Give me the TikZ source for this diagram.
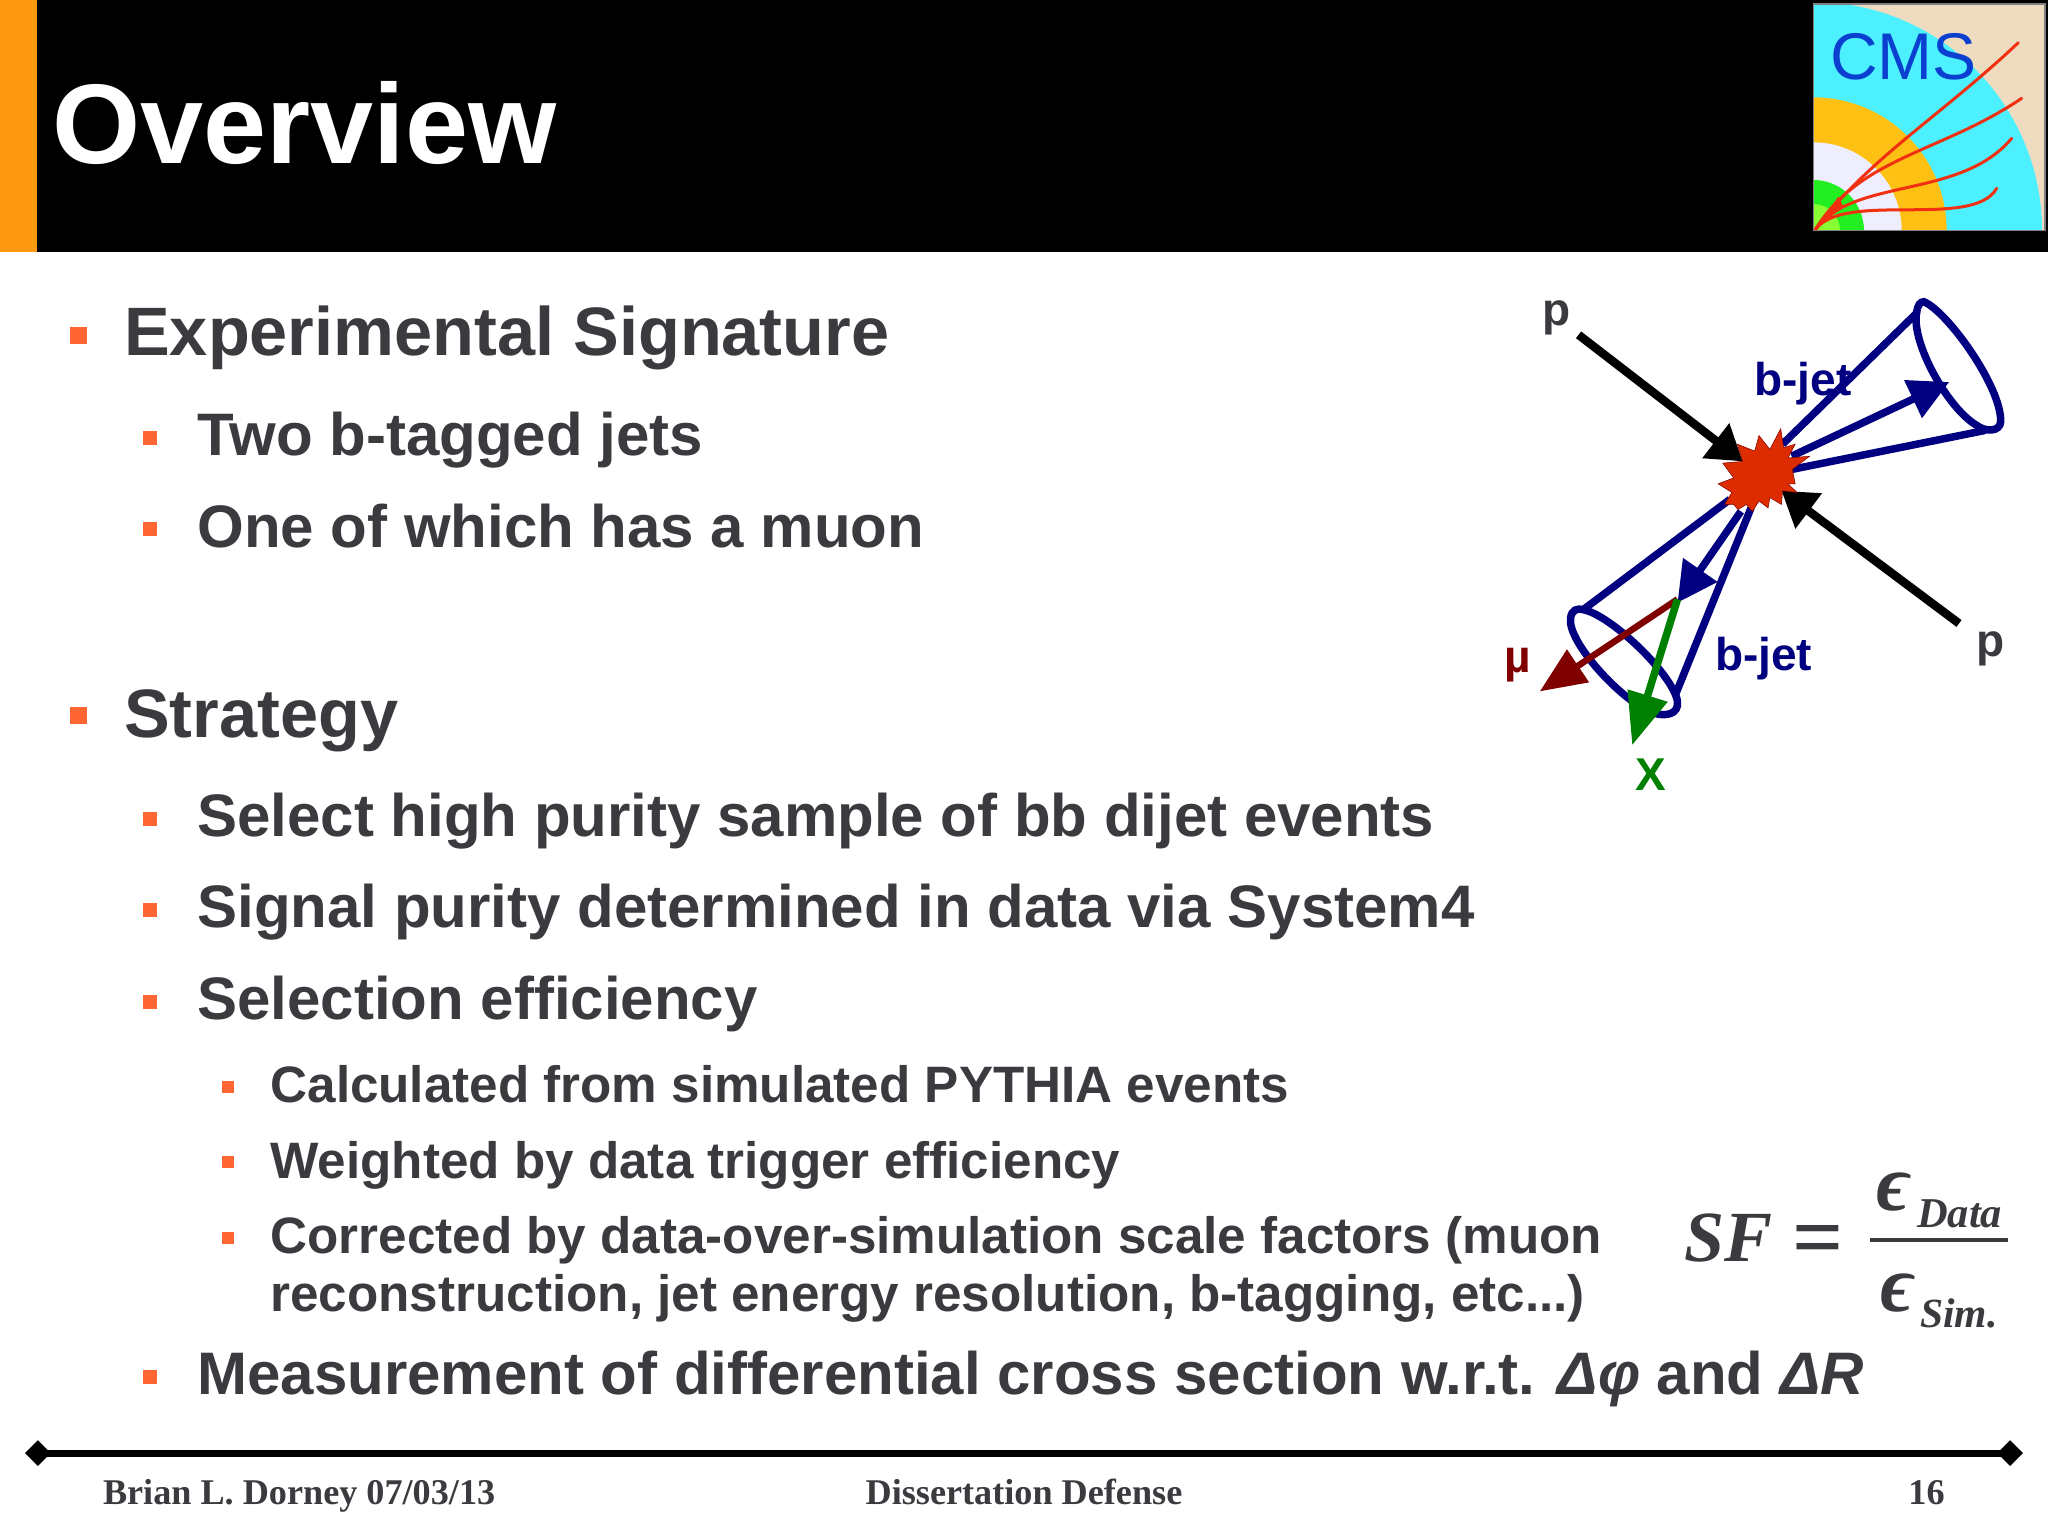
\documentclass[tikz,border=0pt]{standalone}
\usepackage{fontspec}
\setmainfont{Liberation Sans}
\newfontfamily\seriffam{Liberation Serif}
\usetikzlibrary{arrows.meta,shapes.geometric}
\definecolor{txt}{HTML}{3B3A3F}
\definecolor{bul}{HTML}{FF6633}
\definecolor{barorange}{HTML}{FF9912}
\definecolor{navyjet}{HTML}{000080}
\definecolor{starred}{HTML}{DD2C00}
\definecolor{muonred}{HTML}{800000}
\definecolor{xgreen}{HTML}{008000}
\definecolor{lbeige}{HTML}{EFDCC0}
\definecolor{lcyan}{HTML}{4DF0FF}
\definecolor{lorange}{HTML}{FFC014}
\definecolor{lwhite}{HTML}{EEEEFF}
\definecolor{lgreen}{HTML}{22EE22}
\definecolor{llime}{HTML}{88FF33}
\definecolor{ltrack}{HTML}{F03010}
\definecolor{lblue}{HTML}{0A3FD0}
\tikzset{
  lab/.style={anchor=base west,inner sep=0pt,text=txt,font=\bfseries\fontsize{#1}{#1}\selectfont},
  bsq/.style={fill=bul,draw=none,inner sep=0pt,minimum size=#1,shape=rectangle},
  lone/.style={lab=68.5},
  ltwo/.style={lab=60},
  lthree/.style={lab=51.2},
  foot/.style={anchor=base,inner sep=0pt,text=txt,font=\seriffam\bfseries\fontsize{36.2}{36.2}\selectfont},
  frm/.style={anchor=base west,inner sep=0pt,text=txt,font=\seriffam\bfseries\itshape\fontsize{#1}{#1}\selectfont},
  diag/.style={lab=46},
  proton/.style={line width=8.5pt,black,-{Triangle[length=34pt,width=42pt]}},
  jetline/.style={line width=7.5pt,navyjet},
  jetarrow/.style={line width=7.5pt,navyjet,-{Triangle[length=40pt,width=40pt]}},
  endcap/.style={diamond,fill=black,inner sep=0pt,minimum size=26pt},
  track/.style={ltrack,line width=3pt,line cap=round}
}
\begin{document}
\begin{tikzpicture}[x=1.30612pt,y=-1.30612pt]
\useasboundingbox (0,0) rectangle (1568,1175.2);
\fill[white] (0,0) rectangle (1568,1175.2);
% header
\fill[black] (0,0) rectangle (1568,193);
\fill[barorange] (0,0) rectangle (28,193);
\node[anchor=base west,inner sep=0pt,text=white,font=\bfseries\fontsize{113.3}{113.3}\selectfont] (title) at (40,125.5) {Overview};
% logo
\begin{scope}[shift={(1780pt,0pt)},x=0.33333pt,y=-0.33333pt]
\begin{scope}
\clip (100,12) rectangle (795,692);
\fill[lbeige] (100,12) rectangle (795,692);
\fill[lcyan] (100,692) circle (686);
\fill[lorange] (100,692) circle (400);
\fill[lwhite] (100,692) circle (265);
\fill[lgreen] (100,692) circle (152);
\fill[llime] (100,692) circle (80);
\draw[track] (105,690) .. controls (260,480) and (480,350) .. (715,128);
\draw[track] (105,690) .. controls (240,470) and (480,460) .. (725,295);
\draw[track] (105,690) .. controls (220,530) and (540,600) .. (695,415);
\draw[track] (105,690) .. controls (190,570) and (580,690) .. (650,565);
\fill[ltrack] (105,690) -- (175,590) -- (190,620) -- cycle;
\end{scope}
\draw[gray,line width=1.5pt] (100,12) rectangle (795,692);
\node[anchor=base west,inner sep=0pt,text=lblue,font=\fontsize{66}{66}\selectfont] (cms) at (150,240) {CMS};
\end{scope}
% bullets and text
\node[bsq=17pt] (b1) at (60,257) {};
\node[lone] (t1) at (95,272.5) {Experimental Signature};
\node[bsq=14pt] (b2) at (115,335) {};
\node[ltwo] (t2) at (151,349) {Two b-tagged jets};
\node[bsq=14pt] (b3) at (115,405) {};
\node[ltwo] (t3) at (151,419) {One of which has a muon};
\node[bsq=17pt] (b4) at (60,548) {};
\node[lone] (t4) at (95,565) {Strategy};
\node[bsq=14pt] (b5) at (115,627) {};
\node[ltwo] (t5) at (151,640.5) {Select high purity sample of bb dijet events};
\node[bsq=14pt] (b6) at (115,697) {};
\node[ltwo] (t6) at (151,710) {Signal purity determined in data via System4};
\node[bsq=14pt] (b7) at (115,767) {};
\node[ltwo] (t7) at (151,780.5) {Selection efficiency};
\node[bsq=12pt] (b8) at (174.5,832) {};
\node[lthree] (t8) at (207,844) {Calculated from simulated PYTHIA events};
\node[bsq=12pt] (b9) at (174.5,890) {};
\node[lthree] (t9) at (207,902) {Weighted by data trigger efficiency};
\node[bsq=12pt] (b10) at (174.5,948) {};
\node[lthree] (t10) at (207,960) {Corrected by data-over-simulation scale factors (muon};
\node[lthree] (t11) at (207,1004) {reconstruction, jet energy resolution, b-tagging, etc...)};
\node[bsq=14pt] (b11) at (115,1054) {};
\node[ltwo] (t12) at (151,1068) {Measurement of differential cross section w.r.t. \textit{Δφ} and \textit{ΔR}};
% footer
\node[endcap] (dl) at (29,1112.5) {};
\node[endcap] (dr) at (1539,1112.5) {};
\draw[line width=7pt,black] (dl.center) -- (dr.center);
\node[foot] (f1) at (229,1152) {Brian L. Dorney 07/03/13};
\node[foot] (f2) at (784,1152) {Dissertation Defense};
\node[foot] (f3) at (1475,1152) {16};
% formula
\begin{scope}[x=1pt,y=-1pt]
\node[frm=72] (sf) at (1684,1261) {SF};
\node[anchor=base west,inner sep=0pt,text=txt,font=\seriffam\bfseries\fontsize{90}{90}\selectfont] (eq) at (1792,1267) {=};
\node[frm=80] (e1) at (1876,1210) {ϵ};
\node[frm=42.5] (d1) at (1917,1227) {Data};
\coordinate (fa) at (1870,1240);
\coordinate (fb) at (2008,1240);
\draw[line width=3.5pt,txt] (fa) -- (fb);
\node[frm=80] (e2) at (1880,1311) {ϵ};
\node[frm=41.5] (d2) at (1920,1327) {Sim.};
\end{scope}
% event diagram, in crop coordinates
\begin{scope}[shift={(1480pt,-270pt)},x=0.36232pt,y=-0.34483pt]
\coordinate (p1s) at (272,188); \coordinate (p1e) at (725,555);
\coordinate (p2s) at (1322,1025); \coordinate (p2e) at (832,640);
\draw[proton] (p1s) -- (p1e);
\draw[proton] (p2s) -- (p2e);
\coordinate (c1a) at (835,505); \coordinate (c1b) at (1205,125);
\coordinate (c1c) at (862,578); \coordinate (c1d) at (1395,465);
\coordinate (c1e) at (860,540); \coordinate (c1f) at (1295,325);
\draw[jetline] (c1a) -- (c1b);
\draw[jetline] (c1c) -- (c1d);
\draw[jetarrow] (c1e) -- (c1f);
\draw[jetline] (1225,92) .. controls (1290,120) and (1440,340) .. (1437,440) .. controls (1435,470) and (1395,470) .. (1370,450) .. controls (1290,400) and (1190,210) .. (1205,125) .. controls (1208,100) and (1215,92) .. (1225,92) -- cycle;
\coordinate (c2a) at (690,665); \coordinate (c2b) at (285,985);
\coordinate (c2c) at (748,690); \coordinate (c2d) at (540,1230);
\coordinate (c2e) at (720,700); \coordinate (c2f) at (545,965);
\draw[jetline] (c2a) -- (c2b);
\draw[jetline] (c2c) -- (c2d);
\draw[jetarrow] (c2e) -- (c2f);
\draw[jetline] (285,985) .. controls (360,1000) and (530,1170) .. (545,1250) .. controls (550,1290) and (510,1295) .. (480,1285) .. controls (400,1260) and (240,1080) .. (250,1010) .. controls (252,985) and (270,980) .. (285,985) -- cycle;
\coordinate (v) at (545,955); \coordinate (mu) at (165,1222); \coordinate (xx) at (420,1378);
\draw[line width=6.5pt,muonred,-{Triangle[length=46pt,width=38pt]}] (v) -- (mu);
\draw[line width=7.5pt,xgreen,-{Triangle[length=52pt,width=40pt]}] (v) -- (xx);
\filldraw[fill=starred,draw=muonred,line width=0.5pt] (830,460) -- (838,515) -- (870,505) -- (850,545) -- (910,540) -- (862,578) -- (870,620) -- (850,620) -- (875,645) -- (835,640) -- (832,680) -- (800,660) -- (795,690) -- (770,670) -- (752,700) -- (735,680) -- (712,695) -- (700,680) -- (675,680) -- (695,645) -- (657,620) -- (700,603) -- (670,560) -- (725,555) -- (710,505) -- (758,525) -- (770,480) -- (800,520) -- cycle;
\end{scope}
% diagram labels
\node[diag] (lp1) at (1181,249) {p};
\node[diag] (lp2) at (1513,503) {p};
\node[diag,text=navyjet] (lj1) at (1343,303) {b-jet};
\node[diag,text=navyjet] (lj2) at (1313,513) {b-jet};
\node[diag,text=muonred] (lm) at (1152,515) {µ};
\node[diag,text=xgreen] (lx) at (1252,605) {X};
\end{tikzpicture}
\end{document}
